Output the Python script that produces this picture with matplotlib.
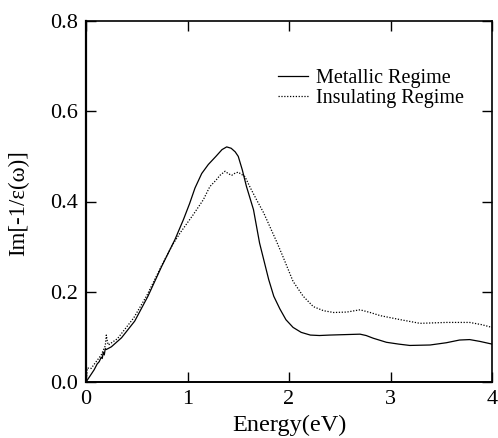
import matplotlib
matplotlib.use("Agg")
import matplotlib.pyplot as plt

plt.rcParams['font.family'] = ['Liberation Serif', 'DejaVu Serif']

# Metallic regime (solid)
met_E = [0.0, 0.03, 0.08, 0.11, 0.13, 0.15, 0.16, 0.17, 0.18, 0.19, 0.20, 0.25, 0.35, 0.48,
         0.61, 0.745, 0.877, 0.96, 1.02, 1.074, 1.14, 1.205, 1.28, 1.34, 1.386, 1.43, 1.47,
         1.50, 1.54, 1.58, 1.65, 1.71, 1.80, 1.85, 1.91, 1.97, 2.04, 2.12, 2.21, 2.30, 2.40,
         2.55, 2.70, 2.76, 2.83, 2.96, 3.08, 3.19, 3.39, 3.55, 3.68, 3.78, 3.88, 4.0]
met_V = [0.0, 0.01, 0.027, 0.04, 0.045, 0.055, 0.052, 0.066, 0.06, 0.074, 0.072, 0.078, 0.098, 0.135,
         0.19, 0.256, 0.316, 0.36, 0.395, 0.43, 0.462, 0.482, 0.50, 0.515, 0.521, 0.518, 0.51,
         0.50, 0.47, 0.434, 0.382, 0.308, 0.227, 0.19, 0.162, 0.138, 0.121, 0.11, 0.104, 0.103, 0.104,
         0.105, 0.106, 0.103, 0.097, 0.088, 0.084, 0.081, 0.082, 0.087, 0.093, 0.094, 0.090, 0.084]

# Insulating regime (dotted)
ins_E = [0.0, 0.013, 0.05, 0.10, 0.15, 0.19, 0.20, 0.21, 0.22, 0.31, 0.47, 0.60, 0.745, 0.85,
         0.926, 1.057, 1.156, 1.22, 1.28, 1.32, 1.37, 1.40, 1.435, 1.47, 1.50, 1.566, 1.62,
         1.68, 1.75, 1.81, 1.88, 1.94, 2.00, 2.04, 2.14, 2.24, 2.34, 2.44, 2.57, 2.70, 2.80,
         2.90, 3.10, 3.29, 3.55, 3.78, 3.90, 4.0]
ins_V = [0.0, 0.031, 0.03, 0.045, 0.06, 0.08, 0.104, 0.09, 0.082, 0.096, 0.142, 0.192, 0.258, 0.303,
         0.33, 0.371, 0.404, 0.433, 0.447, 0.458, 0.467, 0.462, 0.458, 0.463, 0.465, 0.455, 0.43,
         0.404, 0.375, 0.345, 0.31, 0.278, 0.245, 0.223, 0.19, 0.167, 0.158, 0.154, 0.155, 0.16, 0.154,
         0.147, 0.138, 0.130, 0.132, 0.132, 0.127, 0.121]

fig = plt.figure(figsize=(4.98, 4.38), dpi=100)
ax = fig.add_axes([86/498, 56/438, 406/498, 361/438])

ax.plot(met_E, met_V, color='black', lw=0.9, label='Metallic Regime')
ax.plot(ins_E, ins_V, color='black', lw=0.9, linestyle=(0, (1, 1.3)), label='Insulating Regime')

ax.set_xlim(0, 4)
ax.set_ylim(0, 0.8)
ax.set_xticks([0, 1, 2, 3, 4])
ax.set_xticklabels(['0', '1', '2', '3', '4'])
ax.set_yticks([0.0, 0.2, 0.4, 0.6, 0.8])
ax.set_yticklabels(['0.0', '0.2', '0.4', '0.6', '0.8'])
ax.tick_params(direction='in', length=7, width=1.0, labelsize=16, pad=6,
               top=True, right=True, colors='black')
for s in ax.spines.values():
    s.set_linewidth(1.2)
ax.spines['left'].set_linewidth(1.6)
ax.spines['bottom'].set_linewidth(1.4)

ax.set_xlabel('Energy(eV)', fontsize=17.5, va='top')
ax.xaxis.set_label_coords(0.5, -0.092)
ax.set_ylabel('Im[-1/ε(ω)]', fontsize=16.5)
ax.yaxis.set_label_coords(-0.14, 0.496)

leg = ax.legend(loc='upper left', bbox_to_anchor=(0.473, 0.866), frameon=False,
                fontsize=14.5, handlelength=1.5, handletextpad=0.4, labelspacing=0.0,
                borderpad=0, borderaxespad=0)

fig.savefig('out.png', dpi=100)
